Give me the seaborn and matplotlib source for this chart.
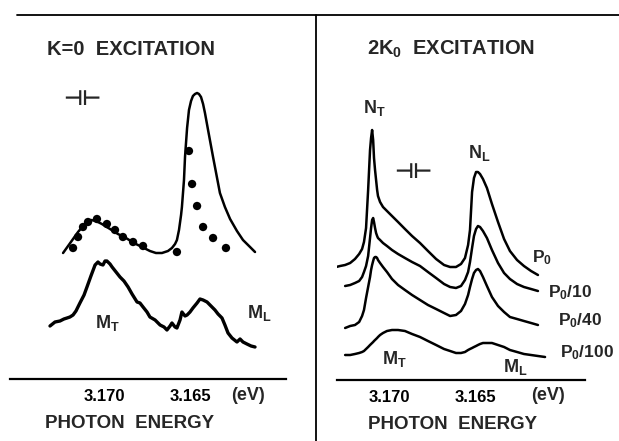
import numpy as np
import pandas as pd
import matplotlib
matplotlib.use("Agg")
import matplotlib.pyplot as plt
from matplotlib.lines import Line2D
import seaborn as sns

# --- left panel: K=0 excitation ---
# smooth calculated curve
k0_calc_energy = [3.17238, 3.17209, 3.17180, 3.17151, 3.17122, 3.17099, 3.17076, 3.17047, 3.17012, 3.16965,
                  3.16919, 3.16872, 3.16826, 3.16779, 3.16733, 3.16698, 3.16663, 3.16628, 3.16605, 3.16587,
                  3.16576, 3.16564, 3.16552, 3.16547, 3.16535, 3.16529, 3.16517, 3.16506, 3.16494, 3.16483,
                  3.16471, 3.16459, 3.16448, 3.16436, 3.16424, 3.16413, 3.16395, 3.16366, 3.16326, 3.16297,
                  3.16267, 3.16227, 3.16192, 3.16151, 3.16122]
k0_calc_int = [126, 133, 140, 147, 153, 157, 159, 158, 155, 150,
               145, 141, 136, 132, 128, 126, 126, 128, 131, 135,
               139, 149, 164, 172, 199, 222, 251, 269, 278, 283,
               285, 286, 285, 282, 275, 266, 249, 222, 186, 172,
               160, 148, 139, 132, 127]
# measured points (dots)
k0_dots_energy = [3.17180, 3.17151, 3.17122, 3.17093, 3.17041, 3.16983, 3.16936, 3.16890, 3.16831, 3.16773,
                  3.16576, 3.16506, 3.16488, 3.16459, 3.16424, 3.16366, 3.16291]
k0_dots_int = [131, 142, 152, 157, 160, 155, 149, 142, 137, 133, 127, 228, 195, 173, 152, 141, 131]
# measured emission spectrum (noisy trace)
k0_spec_energy = [3.17314, 3.17285, 3.17256, 3.17233, 3.17215, 3.17198, 3.17180, 3.17163, 3.17140, 3.17116,
                  3.17099, 3.17076, 3.17052, 3.17035, 3.17023, 3.17006, 3.16994, 3.16983, 3.16965, 3.16953,
                  3.16930, 3.16907, 3.16884, 3.16860, 3.16837, 3.16808, 3.16791, 3.16773, 3.16750, 3.16733,
                  3.16703, 3.16674, 3.16651, 3.16634, 3.16616, 3.16605, 3.16587, 3.16576, 3.16558, 3.16547,
                  3.16529, 3.16517, 3.16500, 3.16483, 3.16459, 3.16442, 3.16424, 3.16401, 3.16378, 3.16355,
                  3.16337, 3.16314, 3.16297, 3.16279, 3.16256, 3.16227, 3.16209, 3.16192, 3.16169, 3.16145,
                  3.16122]
k0_spec_int = [53, 57, 58, 60, 61, 62, 64, 68, 76, 84,
               92, 103, 114, 117, 115, 114, 118, 118, 115, 112,
               107, 102, 98, 92, 85, 77, 76, 72, 67, 62,
               59, 54, 52, 49, 53, 56, 52, 51, 59, 67,
               63, 64, 67, 71, 76, 80, 79, 77, 73, 69,
               65, 61, 54, 46, 41, 37, 40, 37, 35, 33,
               32]

# --- right panel: 2K0 excitation, four excitation powers ---
k2_energy = [3.17306, 3.17283, 3.17254, 3.17225, 3.17197, 3.17173, 3.17156, 3.17145, 3.17133, 3.17121,
             3.17110, 3.17104, 3.17098, 3.17092, 3.17087, 3.17081, 3.17075, 3.17069, 3.17064, 3.17052,
             3.17035, 3.17012, 3.16983, 3.16948, 3.16908, 3.16867, 3.16821, 3.16775, 3.16728, 3.16682,
             3.16647, 3.16613, 3.16584, 3.16561, 3.16543, 3.16532, 3.16520, 3.16509, 3.16497, 3.16486,
             3.16474, 3.16457, 3.16434, 3.16405, 3.16370, 3.16335, 3.16301, 3.16260, 3.16220, 3.16179,
             3.16139, 3.16098]
nan = np.nan
k2_p0 = [113, 114, 115, 117, 121, 126, 131, 138, 152, 190,
         230, 242, 250, 240, 222, 210, 200, 190, 184, 178,
         173, 169, 164, 158, 151, 144, 137, 129, 121, 115,
         113, 113, 116, 122, 135, 150, 188, 202, 208, 208,
         206, 201, 192, 176, 158, 141, 129, 120, 114, 109,
         105, nan]
k2_p0_10 = [nan, nan, 94, 95, 97, 99, 103, 108, 114, 124,
            142, 152, 160, 162, 158, 152, 147, 144, 142, 140,
            137, 134, 130, 126, 122, 118, 114, 108, 102, 96,
            93, 92, 94, 100, 108, 118, 132, 144, 151, 154,
            153, 149, 142, 130, 117, 107, 101, 96, 93, 91,
            89, nan]
k2_p0_40 = [nan, nan, 52, 54, 55, 58, 64, 70, 82, 93,
            103, 110, 115, 119, 122, 123, 123, 122, 120, 117,
            113, 108, 101, 95, 90, 85, 80, 75, 71, 67,
            64, 65, 69, 76, 85, 93, 101, 107, 110, 111,
            109, 103, 94, 83, 74, 68, 63, 61, 59, 57,
            55, nan]
k2_p0_100 = [nan, nan, 25, 25, 26, 27, 28, 29, 31, 33,
             35, 36, 37, 38, 39, 40, 41, 42, 43, 45,
             47, 49, 50, 50, 49, 46, 43, 39, 35, 31,
             29, 27, 27, 28, 30, 31, 32, 33, 34, 35,
             36, 37, 37, 37, 35, 33, 30, 28, 26, 25,
             24, 23]
power_labels = ["P$_\\mathbf{0}$", "P$_\\mathbf{0}$/10", "P$_\\mathbf{0}$/40", "P$_\\mathbf{0}$/100"]

tick_energy = [3.170, 3.165]
tick_labels = ["3.170", "3.165"]

sns.set_style("white")
plt.rcParams['font.family'] = ['Liberation Sans', 'DejaVu Sans']
plt.rcParams['font.weight'] = 'bold'
plt.rcParams['mathtext.fontset'] = 'custom'
plt.rcParams['mathtext.rm'] = 'Liberation Sans'
plt.rcParams['mathtext.it'] = 'Liberation Sans'
plt.rcParams['mathtext.bf'] = 'Liberation Sans:bold'

W, H = 619, 441
fig = plt.figure(figsize=(W / 100, H / 100), dpi=100)


def px(x, y):
    return x / W, 1 - y / H


def setup_axis(ax):
    for s in ['top', 'left', 'right']:
        ax.spines[s].set_visible(False)
    ax.spines['bottom'].set_linewidth(1.6)
    ax.spines['bottom'].set_color('k')
    ax.set_yticks([])
    ax.set_xticks(tick_energy)
    ax.set_xticklabels(tick_labels)
    ax.tick_params(axis='x', direction='in', length=7, width=1.4, pad=7,
                   labelsize=12, colors='k')
    ax.set_xlabel('')
    ax.set_ylabel('')
    ax.patch.set_alpha(0)


# left panel
ax1 = fig.add_axes([10 / W, 62 / H, 276 / W, 365 / H])
sns.lineplot(x=k0_calc_energy, y=k0_calc_int, ax=ax1, color='k', lw=1.8,
             sort=False, estimator=None)
sns.scatterplot(x=k0_dots_energy, y=k0_dots_int, ax=ax1, color='k', s=36,
                edgecolor='none')
sns.lineplot(x=k0_spec_energy, y=k0_spec_int, ax=ax1, color='k', lw=2.4,
             sort=False, estimator=None)
ax1.set_xlim(3.175465, 3.159419)
ax1.set_ylim(0, 365)
setup_axis(ax1)

# right panel
ax2 = fig.add_axes([337 / W, 61 / H, 248 / W, 366 / H])
for series in [k2_p0, k2_p0_10, k2_p0_40, k2_p0_100]:
    df = pd.DataFrame({'energy': k2_energy, 'intensity': series}).dropna()
    sns.lineplot(data=df, x='energy', y='intensity', ax=ax2, color='k', lw=1.8,
                 sort=False, estimator=None)
ax2.set_xlim(3.17301, 3.15867)
ax2.set_ylim(0, 366)
setup_axis(ax2)

# frame lines of the original figure
fig.add_artist(Line2D([17 / W, 1], [1 - 15 / H] * 2, color='k', lw=1.3))
fig.add_artist(Line2D([316 / W] * 2, [1 - 15 / H, 0], color='k', lw=1.3))

# titles
fig.text(*px(47, 55), "K=0  EXCITATION", fontsize=14.5, ha='left', va='baseline')
fig.text(*px(367, 55), "2K$_\\mathbf{0}$  EXCITATION", fontsize=14.5, ha='left', va='baseline')

# resolution markers
for x, y in [(82, 99), (413, 172)]:
    fig.text(*px(x, y), "\u22a3\u22a2", family='DejaVu Sans', fontsize=15,
             ha='center', va='center', fontweight='bold')

# peak labels
fig.text(*px(95, 328), "M$_\\mathbf{T}$", fontsize=13, ha='left', va='baseline')
fig.text(*px(247, 318), "M$_\\mathbf{L}$", fontsize=13, ha='left', va='baseline')
fig.text(*px(363, 113), "N$_\\mathbf{T}$", fontsize=13, ha='left', va='baseline')
fig.text(*px(468, 158), "N$_\\mathbf{L}$", fontsize=13, ha='left', va='baseline')
fig.text(*px(382, 364), "M$_\\mathbf{T}$", fontsize=13, ha='left', va='baseline')
fig.text(*px(503, 372), "M$_\\mathbf{L}$", fontsize=13, ha='left', va='baseline')

# power labels
for (x, y), lab in zip([(532, 262), (548, 297), (558, 325), (560, 357)], power_labels):
    fig.text(*px(x, y), lab, fontsize=12.5, ha='left', va='baseline')

# units and axis titles
fig.text(*px(248, 395), "(eV)", fontsize=13, ha='center', va='center')
fig.text(*px(548, 396), "(eV)", fontsize=13, ha='center', va='center')
fig.text(*px(45, 428), "PHOTON  ENERGY", fontsize=13.5, ha='left', va='baseline')
fig.text(*px(368, 429), "PHOTON  ENERGY", fontsize=13.5, ha='left', va='baseline')

fig.savefig("out.png", dpi=100, facecolor='white')
